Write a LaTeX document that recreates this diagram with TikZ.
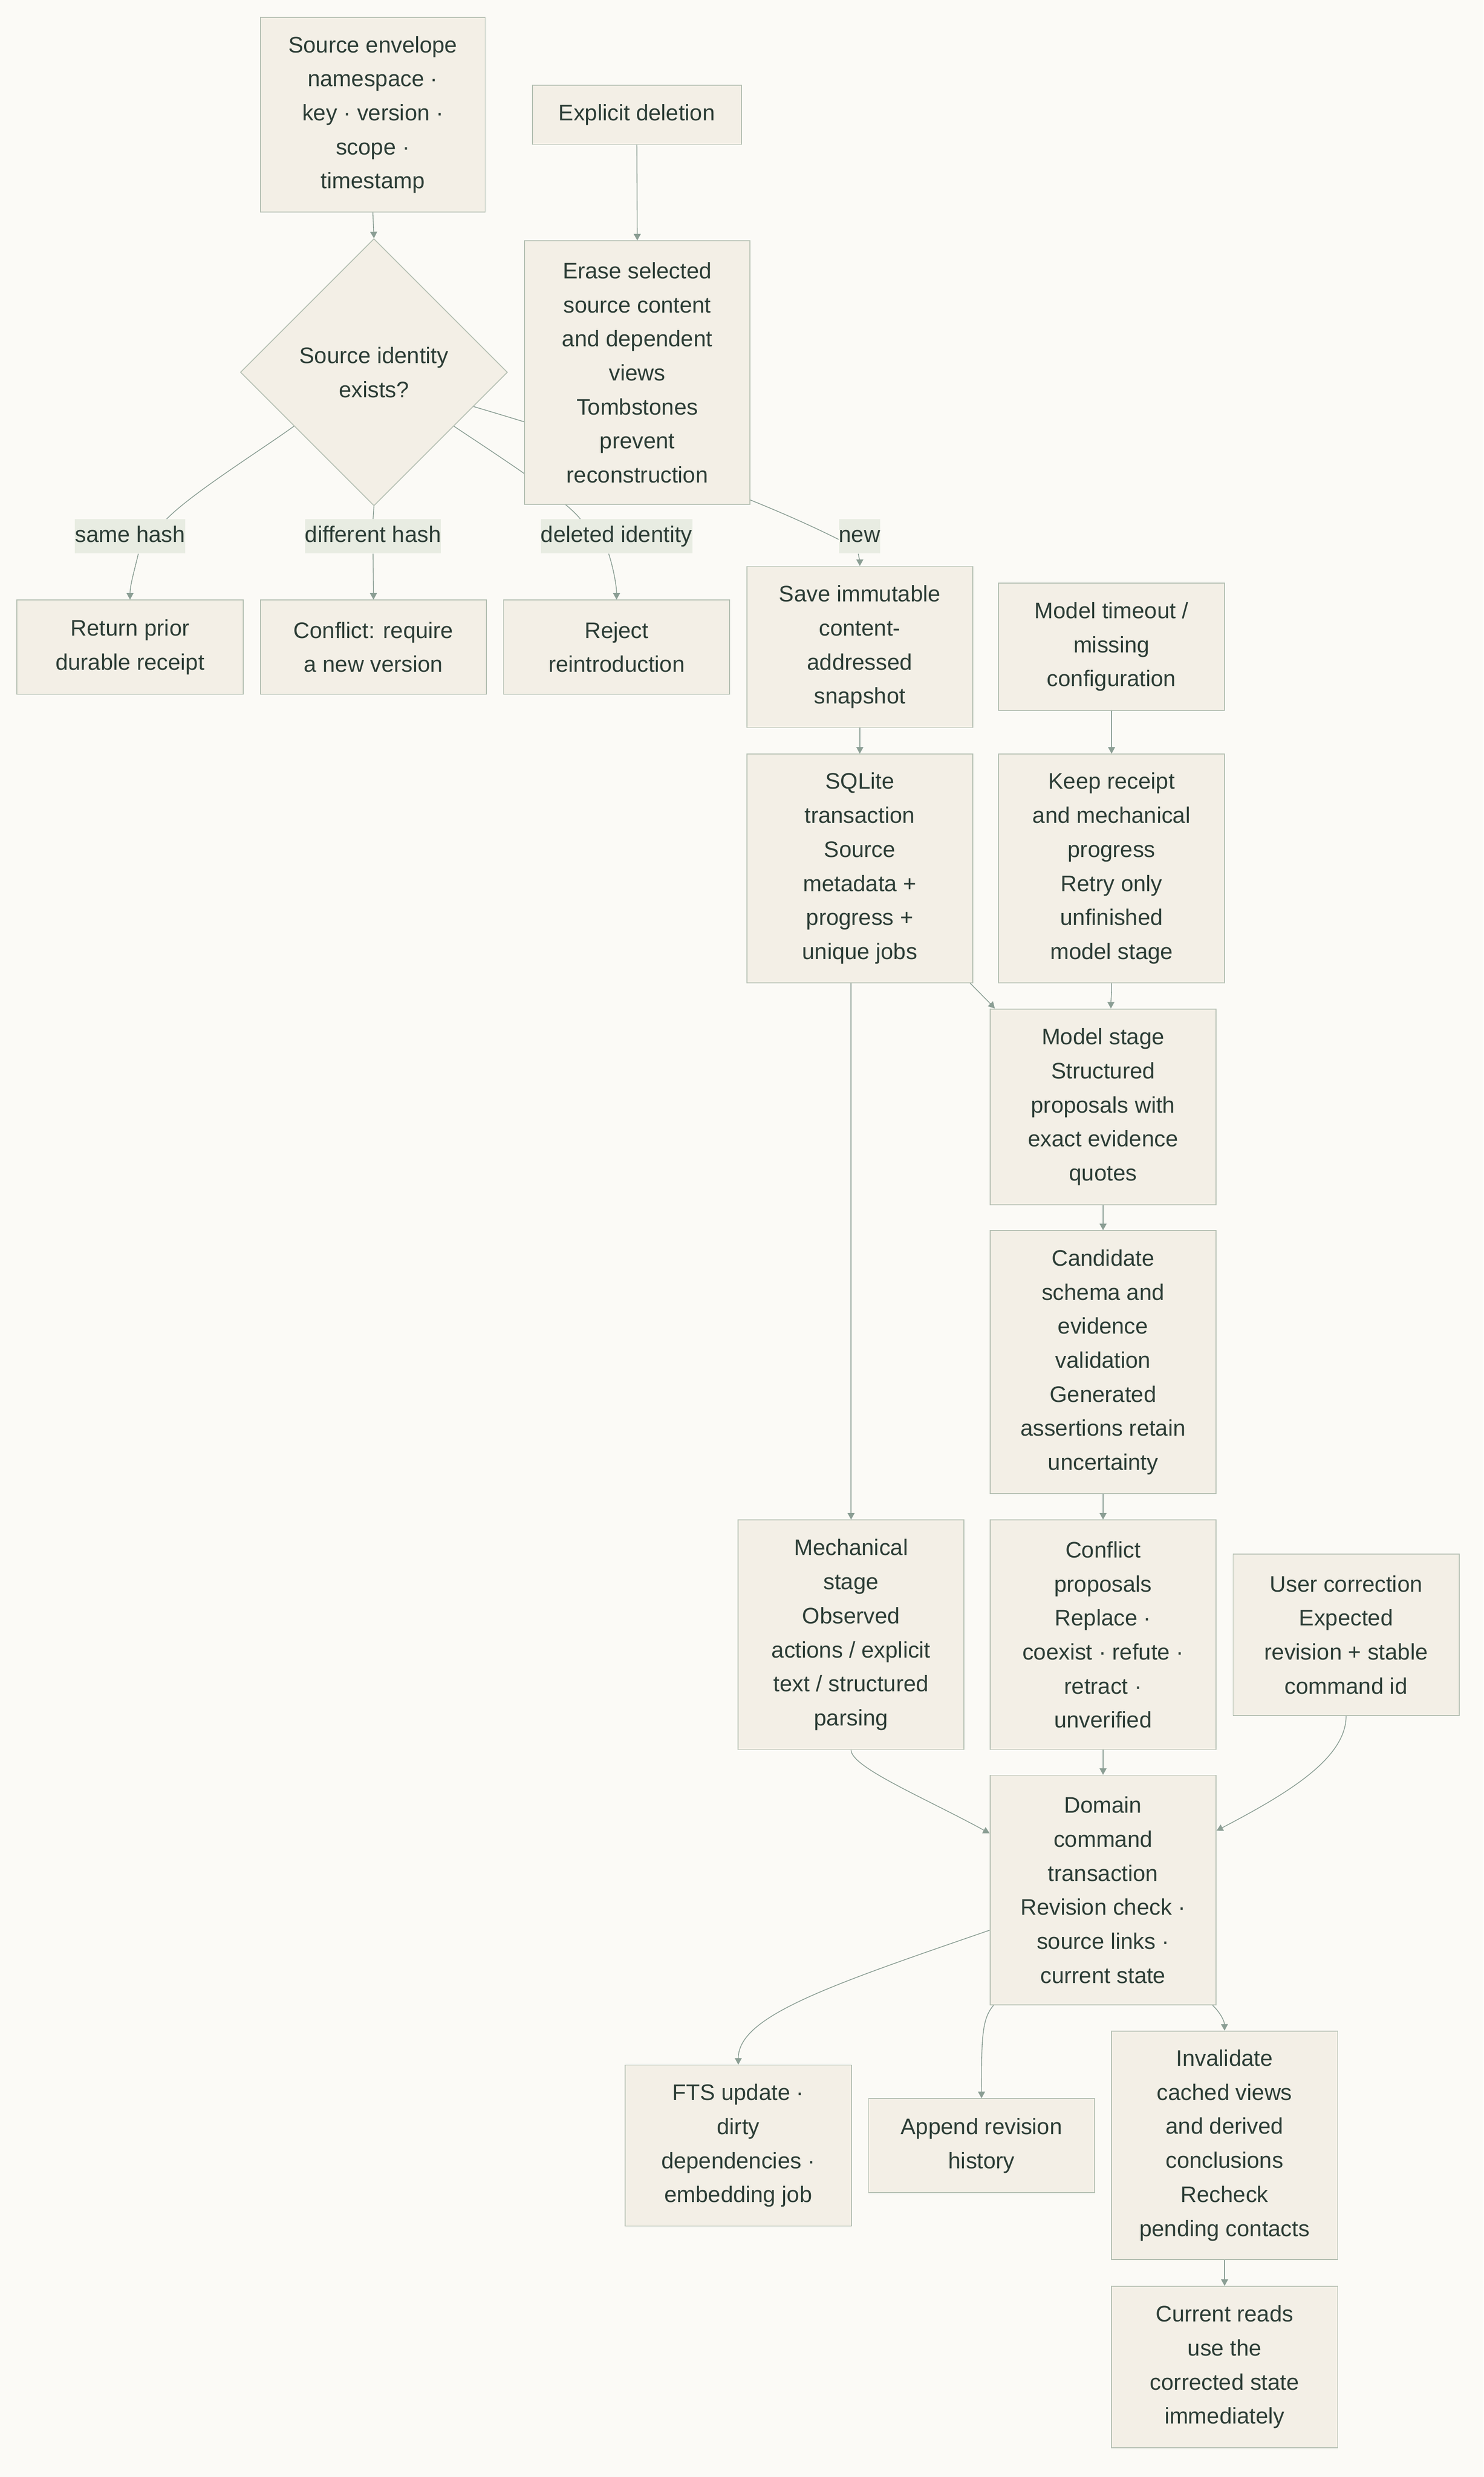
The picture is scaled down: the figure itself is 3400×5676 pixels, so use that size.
\documentclass[tikz,border=0pt]{standalone}
\usepackage{fontspec}
\setmainfont{Liberation Sans}
\usetikzlibrary{arrows.meta,shapes.geometric,calc}
\definecolor{bgc}{HTML}{FBFAF6}
\definecolor{boxfill}{HTML}{F3EFE6}
\definecolor{boxline}{HTML}{B4BFB2}
\definecolor{edgec}{HTML}{8B9E94}
\definecolor{lblfill}{HTML}{E8ECE2}
\definecolor{txt}{HTML}{2C3D36}
\pgfdeclarelayer{bglayer}
\pgfdeclarelayer{edgelayer}
\pgfsetlayers{bglayer,edgelayer,main}
\begin{document}
\begin{tikzpicture}[x=0.25pt,y=-0.25pt,
  font=\fontsize{12.9pt}{19.5pt}\selectfont,
  box/.style={draw=boxline, fill=boxfill, line width=0.5pt, align=center, text=txt, minimum width=129.5pt, inner sep=0pt},
  decision/.style={diamond, draw=boxline, fill=boxfill, line width=0.5pt, align=center, text=txt, minimum width=153pt, minimum height=153pt, inner sep=0pt, aspect=1},
  lbl/.style={fill=lblfill, text=txt, inner xsep=0pt, inner ysep=0pt, minimum height=19.5pt, text height=9.4pt, text depth=2.6pt},
  edge/.style={draw=edgec, line width=0.45pt},
  arr/.style={edge, -{Triangle[length=3.75pt,width=4pt]}}]
\useasboundingbox (0,0) rectangle (3400,5676);
\begin{pgfonlayer}{bglayer}
\fill[bgc] (0,0) rectangle (3400,5676);
\end{pgfonlayer}

% nodes
\node[box, minimum width=128.75pt, minimum height=111.5pt] (env) at (854.5,263) {Source envelope\\namespace ·\\key · version ·\\scope ·\\timestamp};
\node[box, minimum width=119.75pt, minimum height=34pt] (del) at (1459.5,263) {Explicit deletion};
\node[decision] (dia) at (857,853) {Source identity\\exists?};
\node[box, minimum width=129.25pt, minimum height=151pt] (erase) at (1460.5,854) {Erase selected\\source content\\and dependent\\views\\Tombstones\\prevent\\reconstruction};

\node[lbl] (lsame) at (298,1229) {same hash};
\node[lbl] (ldiff) at (855,1229) {different hash};
\node[lbl] (ldel) at (1413,1229) {deleted identity};
\node[lbl] (lnew) at (1970,1229) {new};

\node[box, minimum height=54pt] (ret) at (298,1483) {Return prior\\durable receipt};
\node[box, minimum height=54pt] (conf) at (856,1483) {Conflict: require\\a new version};
\node[box, minimum height=54pt] (rej) at (1413,1483) {Reject\\reintroduction};
\node[box, minimum height=92.25pt] (save) at (1970.5,1482.5) {Save immutable\\content-\\addressed\\snapshot};
\node[box, minimum height=73pt] (timeout) at (2547.5,1482) {Model timeout /\\missing\\configuration};
\node[box, minimum height=131pt] (sqlite) at (1970.5,1990) {SQLite\\transaction\\Source\\metadata +\\progress +\\unique jobs};
\node[box, minimum height=131pt] (keep) at (2547.5,1990) {Keep receipt\\and mechanical\\progress\\Retry only\\unfinished\\model stage};
\node[box, minimum height=112.25pt] (mstage) at (2528,2536.5) {Model stage\\Structured\\proposals with\\exact evidence\\quotes};
\node[box, minimum height=150.75pt] (cand) at (2528,3121.5) {Candidate\\schema and\\evidence\\validation\\Generated\\assertions retain\\uncertainty};
\node[box, minimum height=131.5pt] (mech) at (1950.5,3746) {Mechanical\\stage\\Observed\\actions / explicit\\text / structured\\parsing};
\node[box, minimum height=131.5pt] (cprop) at (2528,3746) {Conflict\\proposals\\Replace ·\\coexist · refute ·\\retract ·\\unverified};
\node[box, minimum height=92.5pt] (user) at (3085,3746) {User correction\\Expected\\revision + stable\\command id};
\node[box, minimum height=131.5pt] (dom) at (2528,4331) {Domain\\command\\transaction\\Revision check ·\\source links ·\\current state};
\node[box, minimum height=92.25pt] (fts) at (1692,4916.5) {FTS update ·\\dirty\\dependencies ·\\embedding job};
\node[box, minimum height=53.75pt] (app) at (2249.5,4916.5) {Append revision\\history};
\node[box, minimum height=131pt] (inv) at (2806.5,4916) {Invalidate\\cached views\\and derived\\conclusions\\Recheck\\pending contacts};
\node[box, minimum height=92.5pt] (cur) at (2806.5,5424) {Current reads\\use the\\corrected state\\immediately};

% edges
\begin{pgfonlayer}{edgelayer}
\draw[arr] (env.south) -- (dia.north);
\draw[arr] (del.south) -- (erase.north);

\draw[edge] (dia.-146) .. controls (600,1030) and (440,1130) .. ($(lsame.north)+(84,0)$);
\draw[arr] ($(lsame.south)+(19,0)$) .. controls (310,1300) and (298,1340) .. (ret.north);

\draw[edge] (dia.south) -- (ldiff.north);
\draw[arr] (ldiff.south) -- (conf.north);

\draw[edge] (dia.-34.5) .. controls (1150,1050) and (1290,1140) .. ($(ldel.north)+(-83,0)$);
\draw[arr] ($(ldel.south)+(-18,0)$) .. controls (1405,1300) and (1413,1340) .. (rej.north);

\draw[edge] (dia.-19) .. controls (1400,1025) and (1700,1125) .. ($(lnew.west)+(0,7)$);
\draw[arr] ($(lnew.south)+(-3,0)$) .. controls (1969,1280) and (1970.5,1285) .. (save.north);

\draw[arr] (save.south) -- (sqlite.north);
\draw[arr] (timeout.south) -- (keep.north);
\draw[arr] (mech.north |- sqlite.south) -- (mech.north);
\draw[arr] ($(sqlite.south east)+(-7,0)$) .. controls (2245,2275) and (2265,2295) .. ($(mstage.north west)+(12,0)$);
\draw[arr] (keep.south) .. controls (2548,2280) and (2546,2290) .. ($(mstage.north)+(18,0)$);
\draw[arr] (mstage.south) -- (cand.north);
\draw[arr] (cand.south) -- (cprop.north);
\draw[arr] (cprop.south) -- (dom.north);
\draw[arr] (mech.south) .. controls (1951,4050) and (2120,4120) .. ($(dom.west)+(0,-130)$);
\draw[arr] (user.south) .. controls (3085,4030) and (2950,4110) .. ($(dom.east)+(0,-136)$);
\draw[arr] ($(dom.west)+(0,92)$) .. controls (1900,4550) and (1692,4620) .. (fts.north);
\draw[arr] ($(dom.south west)+(9,0)$) .. controls (2252,4625) and (2249,4660) .. (app.north);
\draw[arr] ($(dom.south east)+(-9,0)$) .. controls (2795,4610) and (2806,4630) .. (inv.north);
\draw[arr] (inv.south) -- (cur.north);
\end{pgfonlayer}
\end{tikzpicture}
\end{document}
